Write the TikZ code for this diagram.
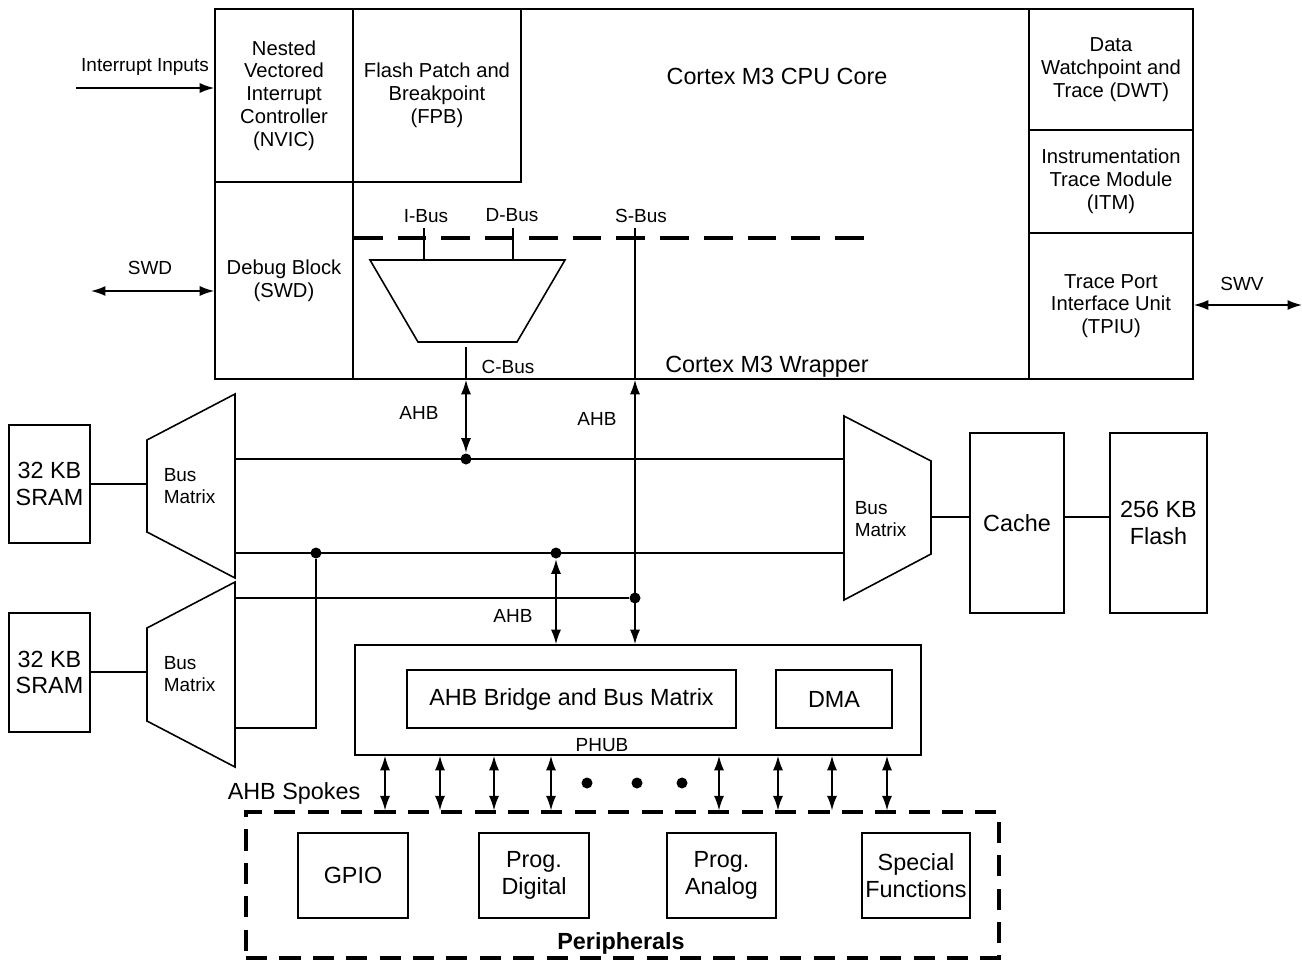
\documentclass[tikz,border=0pt]{standalone}
\usepackage{fontspec}
\setmainfont{Liberation Sans}
\usetikzlibrary{arrows.meta}

\begin{document}
\begin{tikzpicture}[x=0.02cm,y=-0.02cm,line width=0.9pt,
  blk/.style={draw,inner sep=0pt,align=center},
  sm/.style={font=\fontsize{10.8}{12.5}\selectfont,align=center,inner sep=0pt},
  md/.style={font=\fontsize{11.5}{13}\selectfont},
  lg/.style={font=\fontsize{13.3}{15}\selectfont,align=center},
  bus/.style={line width=1.8pt,dash pattern=on 16.4pt off 8.5pt},
  per/.style={draw,line width=1.8pt,dash pattern=on 12pt off 7pt,inner sep=0pt},
  jn/.style={circle,fill,inner sep=0pt,minimum size=0.22cm},
  arr/.style={-{Latex[length=2.9mm,width=2mm]}},
  darr/.style={{Latex[length=2.9mm,width=2mm]}-{Latex[length=2.9mm,width=2mm]}}]
\useasboundingbox (0,0) rectangle (1302,960);

\node[blk,minimum width=19.56cm,minimum height=7.4cm] (cpu) at (704,194) {};
\node[blk,md,minimum width=2.76cm,minimum height=3.46cm] (nvic) at (284,95.5) {Nested\\Vectored\\Interrupt\\Controller\\(NVIC)};
\node[blk,md,minimum width=2.76cm,minimum height=3.94cm] (dbg) at (284,280.5) {Debug Block\\(SWD)};
\node[blk,md,minimum width=3.36cm,minimum height=3.46cm] (fpb) at (437,95.5) {Flash Patch and\\Breakpoint\\(FPB)};
\node[blk,md,minimum width=3.28cm,minimum height=2.42cm] (dwt) at (1111,69.5) {Data\\Watchpoint and\\Trace (DWT)};
\node[blk,md,minimum width=3.28cm,minimum height=2.06cm] (itm) at (1111,181.5) {Instrumentation\\Trace Module\\(ITM)};
\node[blk,md,minimum width=3.28cm,minimum height=2.92cm] (tpiu) at (1111,306) {Trace Port\\Interface Unit\\(TPIU)};
\node[lg] (core) at (777,76) {Cortex M3 CPU Core};
\node[lg] (wrap) at (767,367) {Cortex M3 Wrapper};

\coordinate (intin) at (76,88);
\coordinate (swd) at (91,291);
\coordinate (swv) at (1302,305);
\draw[arr] (intin) -- (nvic.west |- intin);
\draw[darr] (swd) -- (dbg.west |- swd);
\draw[darr] (tpiu.east |- swv) -- (swv);
\node[sm] (intlbl) at (145,67) {Interrupt Inputs};
\node[sm] (swdlbl) at (150,268) {SWD};
\node[sm] (swvlbl) at (1242,284) {SWV};

\coordinate (ib) at (424,228);
\coordinate (db) at (513,228);
\coordinate (sb) at (635,228);
\coordinate (cb) at (466,347);
\draw[bus] (dbg.east |- 0,238) -- (866,238);
\draw (370,260) -- (565,260) -- (517,342) -- (418,342) -- cycle;
\draw (ib) -- (424,260);
\draw (db) -- (513,260);
\node[sm] (iblbl) at (426,216) {I-Bus};
\node[sm] (dblbl) at (512,215) {D-Bus};
\node[sm] (sblbl) at (641,216) {S-Bus};
\node[sm] (cblbl) at (508,367) {C-Bus};

\node[blk,lg,minimum width=1.62cm,minimum height=2.36cm] (sram1) at (49.5,484) {32 KB\\SRAM};
\node[blk,lg,minimum width=1.62cm,minimum height=2.38cm] (sram2) at (49.5,672.5) {32 KB\\SRAM};
\draw (147,440) -- (235,394) -- (235,578) -- (147,532) -- cycle;
\draw (147,628) -- (235,582) -- (235,767) -- (147,721) -- cycle;
\draw (844,416) -- (931,461) -- (931,554) -- (844,600) -- cycle;
\node[sm,anchor=west,align=left] (bm1) at (163,486) {Bus\\Matrix};
\node[sm,anchor=west,align=left] (bm2) at (163,674) {Bus\\Matrix};
\node[sm,anchor=west,align=left] (bm3) at (854,519) {Bus\\Matrix};
\node[blk,lg,minimum width=1.88cm,minimum height=3.6cm] (cache) at (1017,523) {Cache};
\node[blk,lg,minimum width=1.94cm,minimum height=3.6cm] (flash) at (1158.5,523) {256 KB\\Flash};

\coordinate (bm1w) at (147,484);
\coordinate (bm2w) at (147,672);
\coordinate (bm3e) at (931,517);
\draw (sram1.east |- bm1w) -- (bm1w);
\draw (sram2.east |- bm2w) -- (bm2w);
\draw (bm3e) -- (cache.west |- bm3e);
\draw (cache.east |- bm3e) -- (flash.west |- bm3e);

\coordinate (bm1a) at (235,459);
\coordinate (bm1b) at (235,553);
\coordinate (bm2a) at (235,598);
\coordinate (bm2b) at (235,728);
\coordinate (bm3a) at (844,459);
\coordinate (bm3b) at (844,553);
\node[jn] (ja) at (466,459) {};
\node[jn] (jb1) at (316,553) {};
\node[jn] (jb2) at (556,553) {};
\node[jn] (jc) at (635,598) {};
\draw (bm1a) -- (bm3a);
\draw (bm1b) -- (bm3b);
\draw (bm2a) -- (jc);
\draw (bm2b) -| (jb1);

\node[blk,minimum width=11.32cm,minimum height=2.2cm] (phub) at (638,700) {};
\node[blk,lg,minimum width=6.58cm,minimum height=1.16cm] (ahbbr) at (571.5,699) {AHB Bridge and Bus Matrix};
\node[blk,lg,minimum width=2.32cm,minimum height=1.16cm] (dma) at (834,699) {DMA};
\node[sm] (phublbl) at (602,745) {PHUB};

\draw (cb) -- (cb |- cpu.south);
\draw[darr] (cb |- cpu.south) -- (ja);
\draw (sb) -- (sb |- cpu.south);
\draw[darr] (sb |- cpu.south) -- (sb |- phub.north);
\draw[darr] (jb2) -- (jb2 |- phub.north);
\node[sm] (ahb1) at (419,413) {AHB};
\node[sm] (ahb2) at (597,419) {AHB};
\node[sm] (ahb3) at (513,616) {AHB};

\node[per,minimum width=15.06cm,minimum height=2.92cm] (periph) at (622.5,885) {};
\node[blk,lg,minimum width=2.2cm,minimum height=1.7cm] (gpio) at (353,875.5) {GPIO};
\node[blk,lg,minimum width=2.2cm,minimum height=1.7cm] (pdig) at (534,875.5) {Prog.\\Digital};
\node[blk,lg,minimum width=2.18cm,minimum height=1.7cm] (pana) at (721.5,875.5) {Prog.\\Analog};
\node[blk,lg,minimum width=2.16cm,minimum height=1.7cm] (spec) at (916,875.5) {Special\\Functions};
\node[lg] (perlbl) at (621,943) {\bfseries Peripherals};

\foreach \x in {385,440,494,551,719,778,832,887}
  \draw[darr] (phub.south -| \x,0) -- (periph.north -| \x,0);
\foreach \x in {587,637,682}
  \node[jn] (e\x) at (\x,783) {};
\node[lg] (spokes) at (294,793) {AHB Spokes};

\end{tikzpicture}
\end{document}
